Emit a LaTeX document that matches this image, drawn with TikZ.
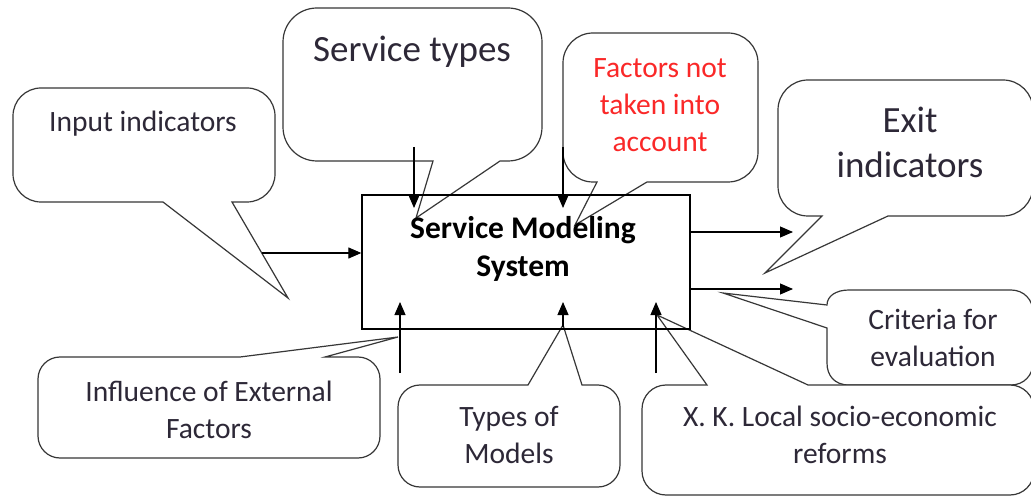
\documentclass[tikz,border=0pt]{standalone}
\usepackage{fontspec}
\setmainfont{Carlito}
\usetikzlibrary{arrows.meta}
\definecolor{txt}{RGB}{45,40,55}
\definecolor{redtxt}{RGB}{250,40,40}
\definecolor{outl}{RGB}{55,55,55}
% callout with pointer on bottom edge: L T R B r b1 b2 tipx tipy
\newcommand{\calloutB}[9]{%
 \draw[callout] (#7,#4) -- ({#3-#5},#4) .. controls ({#3-0.448*#5},#4) and (#3,{#4-0.448*#5}) .. (#3,{#4-#5}) -- (#3,{#2+#5}) .. controls (#3,{#2+0.448*#5}) and ({#3-0.448*#5},#2) .. ({#3-#5},#2) -- ({#1+#5},#2) .. controls ({#1+0.448*#5},#2) and (#1,{#2+0.448*#5}) .. (#1,{#2+#5}) -- (#1,{#4-#5}) .. controls (#1,{#4-0.448*#5}) and ({#1+0.448*#5},#4) .. ({#1+#5},#4) -- (#6,#4) -- (#8,#9) -- cycle;}
% callout with pointer on top edge
\newcommand{\calloutT}[9]{%
 \draw[callout] (#6,#2) -- ({#1+#5},#2) .. controls ({#1+0.448*#5},#2) and (#1,{#2+0.448*#5}) .. (#1,{#2+#5}) -- (#1,{#4-#5}) .. controls (#1,{#4-0.448*#5}) and ({#1+0.448*#5},#4) .. ({#1+#5},#4) -- ({#3-#5},#4) .. controls ({#3-0.448*#5},#4) and (#3,{#4-0.448*#5}) .. (#3,{#4-#5}) -- (#3,{#2+#5}) .. controls (#3,{#2+0.448*#5}) and ({#3-0.448*#5},#2) .. ({#3-#5},#2) -- (#7,#2) -- (#8,#9) -- cycle;}
\tikzset{
 callout/.style={draw=outl, line width=1.2pt, fill=white, line join=miter},
 lbl/.style={font=\fontsize{29.5}{36.5}\selectfont, text=txt, align=center, inner sep=0pt},
 biglbl/.style={font=\fontsize{37}{45}\selectfont, text=txt, align=center, inner sep=0pt},
 redlbl/.style={font=\fontsize{29.5}{37}\selectfont, text=redtxt, align=center, inner sep=0pt},
 boldlbl/.style={font=\fontsize{31.5}{38}\selectfont\bfseries, text=black, align=center, inner sep=0pt},
 arr/.style={-{Triangle[length=13pt,width=11pt]}, line width=1.1pt, black},
 sysbox/.style={draw=black, line width=1.3pt, minimum width=328pt, minimum height=134pt, inner sep=0pt}
}
\begin{document}
\begin{tikzpicture}[x=1pt,y=-1pt]
\useasboundingbox[fill=white] (0,0) rectangle (1031,497);
% callouts
\calloutB{13}{88}{275}{202}{28}{163}{232}{288}{298}
\calloutB{283}{8}{542}{161}{34}{433}{500}{416}{218}
\calloutB{563}{33}{758}{182}{30}{597}{647}{575}{225}
\calloutB{778}{80}{1033}{216}{30}{822}{888}{765}{273}
\draw[callout] (827,328) -- (827,363) .. controls (827,375) and (834,385) .. (849,385) -- (1011,385) .. controls (1024,385) and (1033,375) .. (1033,363) -- (1033,312) .. controls (1033,300) and (1024,290) .. (1011,290) -- (849,290) .. controls (836,290) and (827,296) .. (827,305) -- (723,293) -- cycle;
\calloutT{642}{385}{1034}{495}{24}{707}{808}{657}{315}
\calloutT{398}{385}{620}{487}{22}{528}{582}{563}{325}
\calloutT{38}{357}{380}{458}{22}{240}{325}{398}{337}
% main box
\node[sysbox] (sys) at (526,262) {};
% arrows
\coordinate (inS) at (262,253);
\draw[arr] (inS) -- (inS -| sys.west);
\coordinate (stS) at (414,147); \coordinate (stE) at (414,208);
\draw[arr] (stS) -- (stE);
\coordinate (faS) at (563,147); \coordinate (faE) at (563,208);
\draw[arr] (faS) -- (faE);
\coordinate (exE) at (793,232);
\draw[arr] (exE -| sys.east) -- (exE);
\coordinate (crE) at (793,289);
\draw[arr] (crE -| sys.east) -- (crE);
\coordinate (ifS) at (400,373); \coordinate (ifE) at (400,302);
\draw[arr] (ifS) -- (ifE);
\coordinate (tmS) at (563,327); \coordinate (tmE) at (563,302);
\draw[arr] (tmS) -- (tmE);
\coordinate (xkS) at (656,373); \coordinate (xkE) at (656,302);
\draw[arr] (xkS) -- (xkE);
% texts
\node[lbl] (tin) at (143,124) {Input indicators};
\node[biglbl] (tst) at (412,52) {Service types};
\node[redlbl] (tfa) at (660,105) {Factors not\\taken into\\account};
\node[biglbl] (tex) at (910,142) {Exit\\indicators};
\node[lbl] (tcr) at (933,338) {Criteria for\\evaluation};
\node[lbl] (tif) at (209,410) {Influence of External\\Factors};
\node[lbl] (ttm) at (509,435) {Types of\\Models};
\node[lbl] (txk) at (840,435) {X. K. Local socio-economic\\reforms};
\node[boldlbl] (tsys) at (523,249) {Service Modeling\\System};
\end{tikzpicture}
\end{document}
